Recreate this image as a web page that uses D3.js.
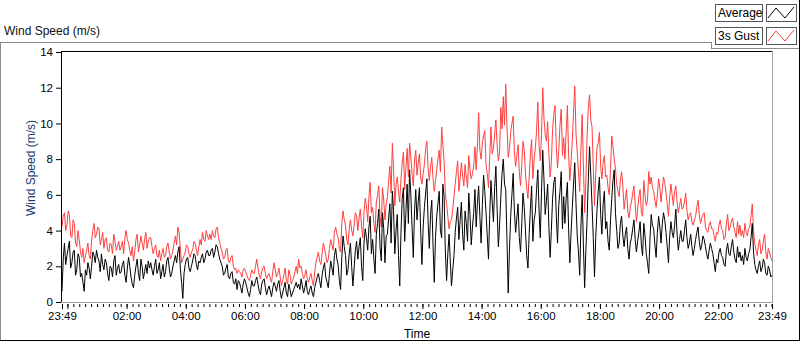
<!DOCTYPE html>
<html>
<head>
<meta charset="utf-8">
<script src="https://cdn.jsdelivr.net/npm/d3@7"></script>
<style>
  body { margin: 0; background: #fff; }
  svg { display: block; font-family: "Liberation Sans", Arial, sans-serif; }
</style>
</head>
<body>
<script>
// series names for legend
var seriesNames = ["Average", "3s Gust"];

// y axis ticks
var yTicks = [0, 2, 4, 6, 8, 10, 12, 14];

// x axis labels (first and last are the record start/end)
var xTickLabels = ["23:49", "02:00", "04:00", "06:00", "08:00", "10:00", "12:00",
  "14:00", "16:00", "18:00", "20:00", "22:00", "23:49"];

// 2.5 minute samples starting 23:49, one row per hour
var averageSpeed = [
  0.6,2.4, 3.3,2.1, 2.6,3.0, 3.4,1.9, 2.2,2.8, 2.9,1.5, 1.8,2.7, 2.5,1.4, 1.6,1.1, 0.6,1.8, 1.5,2.2, 1.9,1.3,
  2.0,2.8, 2.6,2.2, 2.9,2.5, 2.3,1.7, 2.7,2.1, 1.8,2.4, 2.2,1.6, 1.2,2.0, 1.9,1.4, 2.3,2.6, 1.5,1.9, 2.1,1.6,
  1.7,2.1, 2.3,1.5, 1.1,1.9, 2.5,2.0, 1.4,1.0, 0.8,1.5, 2.0,2.4, 1.6,1.2, 2.4,2.0, 1.3,1.7, 2.1,1.6, 2.3,1.9,
  2.2,1.8, 1.5,2.0, 2.4,1.6, 1.8,2.2, 1.3,1.7, 2.1,1.4, 1.7,2.3, 2.5,1.9, 1.4,1.6, 2.0,2.3, 2.6,2.2, 2.8,3.1,
  1.9,1.1, 0.2,1.6, 2.1,2.4, 2.5,1.9, 1.7,2.0, 2.3,2.7, 2.6,2.1, 1.8,2.3, 2.2,2.5, 2.7,2.2, 2.4,2.8, 2.9,2.6,
  2.6,2.9, 3.0,2.5, 2.8,3.2, 3.1,2.7, 2.4,2.2, 2.0,1.5, 1.6,1.9, 2.1,1.4, 1.3,1.6, 1.7,1.1, 1.0,1.3, 0.7,1.2,
  1.1,0.8, 0.5,1.0, 1.3,1.1, 0.8,0.5, 0.3,0.7, 1.2,0.9, 0.9,1.2, 1.4,1.0, 0.6,0.4, 1.0,1.2, 1.3,0.8, 0.4,0.7,
  0.9,0.6, 0.3,0.8, 1.1,0.9, 0.6,1.0, 1.2,0.6, 0.2,0.5, 0.8,1.1, 0.5,0.3, 1.0,0.7, 0.3,0.5, 0.7,0.9, 1.1,0.8,
  1.0,0.7, 1.3,0.9, 0.5,0.8, 1.2,0.6, 0.4,0.7, 0.9,0.5, 0.3,0.8, 1.1,1.4, 1.6,1.2, 0.8,1.5, 1.9,2.2, 1.4,1.1,
  0.8,1.6, 2.3,1.9, 1.5,2.6, 3.0,2.4, 2.1,1.2, 0.7,2.5, 3.7,3.1, 2.6,1.5, 1.8,2.7, 3.3,2.0, 0.9,1.9, 2.9,3.4,
  2.4,3.1, 3.6,2.0, 1.2,3.3, 4.1,3.6, 2.9,4.2, 4.8,2.7, 3.5,2.4, 1.6,3.8, 4.4,5.2, 3.1,2.3, 5.0,4.1, 2.2,3.7,
  3.8,4.7, 5.5,3.3, 6.2,5.1, 2.7,4.0, 4.9,2.6, 0.9,3.9, 5.8,6.4, 3.4,5.0, 6.6,4.4, 7.4,6.0, 4.2,2.5, 5.1,6.3,
  4.6,5.6, 6.4,3.9, 2.1,4.2, 5.3,6.1, 6.9,4.5, 3.0,4.9, 5.7,3.2, 1.1,3.6, 4.8,5.5, 6.2,4.0, 3.6,6.6, 5.9,2.8,
  1.2,2.7, 3.8,2.3, 0.9,1.8, 2.6,3.9, 4.7,5.3, 3.5,4.6, 5.6,3.8, 2.9,5.1, 4.4,3.4, 6.1,4.9, 3.2,4.2, 5.0,6.3,
  4.2,5.5, 6.5,4.8, 3.3,5.4, 7.1,6.2, 5.0,3.7, 2.4,4.9, 6.8,5.6, 4.5,6.4, 7.6,5.2, 3.1,4.3, 5.9,7.2, 8.0,6.6,
  6.3,3.5, 0.5,2.9, 4.8,6.0, 7.2,5.1, 3.9,4.7, 5.5,3.6, 2.8,4.4, 6.1,5.3, 4.0,2.6, 1.9,3.8, 5.2,6.5, 3.4,4.6,
  5.0,6.3, 7.4,5.2, 3.6,6.1, 8.5,6.9, 4.9,5.7, 6.6,4.2, 2.5,4.0, 5.8,6.7, 7.0,4.8, 3.3,5.4, 6.2,7.3, 4.1,5.9,
  4.4,5.8, 6.7,4.1, 2.2,3.9, 5.3,6.6, 7.8,5.5, 3.7,2.8, 1.5,4.3, 6.0,3.2, 0.8,2.9, 4.6,6.9, 8.7,7.1, 5.4,3.6,
  1.4,3.6, 5.1,6.2, 7.0,4.9, 3.8,5.5, 6.2,4.1, 4.5,3.4, 2.9,4.6, 5.8,6.8, 7.4,5.0, 4.0,3.0, 3.3,4.4, 4.8,3.7,
  3.1,3.8, 4.2,3.0, 2.4,3.3, 3.6,4.1, 4.6,3.5, 2.8,3.4, 3.9,4.5, 3.2,2.6, 4.4,3.7, 2.7,2.2, 1.6,3.5, 4.9,4.3,
  4.1,3.2, 2.5,3.9, 4.8,4.2, 3.3,4.4, 5.0,4.6, 3.9,3.1, 2.2,3.7, 4.5,3.9, 3.6,4.3, 5.2,3.8, 2.9,3.5, 4.0,3.4,
  3.4,4.0, 4.6,3.6, 3.0,3.3, 3.8,3.1, 2.6,3.0, 3.5,3.9, 4.2,3.4, 2.9,3.2, 3.7,3.5, 3.1,2.7, 2.4,2.9, 3.3,3.0,
  2.7,2.2, 1.7,2.4, 2.2,2.8, 3.0,2.6, 2.5,2.1, 2.0,2.9, 3.3,2.7, 2.6,3.1, 3.5,2.8, 2.4,2.2, 3.1,2.5, 2.8,2.3,
  2.6,2.1, 3.0,2.5, 2.3,2.7, 2.9,3.6, 4.4,2.8, 2.1,1.8, 1.6,2.0, 2.3,1.7, 1.9,2.4, 2.2,1.6, 1.5,2.0, 1.8,1.4,
  1.5
];

var gustSpeed = [
  4.2,4.8, 5.0,4.0, 4.3,5.1, 4.9,3.7, 3.6,4.6, 4.4,3.3, 3.1,4.0, 3.5,2.8, 2.5,3.0, 2.2,2.6, 2.9,3.3, 2.6,2.4,
  3.4,4.0, 4.4,3.6, 3.8,4.2, 4.1,3.2, 3.5,3.9, 3.0,3.5, 3.6,2.9, 2.8,3.3, 3.2,2.7, 3.8,3.4, 2.9,3.1, 3.4,2.9,
  3.1,3.4, 2.7,3.6, 4.0,3.5, 3.3,2.9, 2.6,3.1, 2.3,2.8, 3.5,3.8, 2.8,3.2, 3.7,3.3, 2.9,3.5, 3.9,3.0, 3.4,3.6,
  3.6,3.1, 2.7,3.0, 3.2,2.6, 2.5,2.9, 2.3,2.7, 3.0,2.5, 2.6,3.1, 3.3,2.8, 2.4,2.6, 2.9,3.3, 3.7,3.2, 4.2,3.9,
  3.0,2.2, 2.4,2.6, 2.8,3.2, 3.1,2.7, 2.5,2.8, 2.9,3.4, 3.3,2.9, 2.6,3.1, 3.5,3.2, 3.9,3.5, 3.4,4.0, 3.7,3.5,
  3.8,3.5, 4.0,3.7, 3.6,4.1, 4.2,3.6, 3.3,3.0, 2.8,2.4, 2.5,2.9, 3.0,2.3, 2.2,2.5, 2.6,2.0, 1.8,1.9, 1.6,1.8,
  1.7,1.6, 1.4,1.8, 1.9,1.7, 1.5,1.3, 1.2,1.5, 1.8,1.6, 1.6,2.0, 2.4,1.9, 1.5,1.3, 1.7,1.9, 2.0,1.6, 1.3,1.5,
  1.6,1.3, 1.1,1.7, 2.2,1.8, 1.4,1.6, 1.9,1.4, 0.9,1.2, 1.5,1.9, 1.2,1.0, 1.8,1.5, 1.0,1.2, 1.4,1.7, 2.0,1.6,
  2.4,1.9, 2.0,1.6, 1.3,1.5, 1.8,1.3, 1.1,1.4, 1.6,1.2, 0.9,1.7, 2.2,2.5, 2.8,2.3, 2.1,2.7, 3.3,3.0, 2.6,2.2,
  2.4,3.0, 3.5,3.2, 2.9,3.9, 4.2,3.8, 3.6,3.0, 2.8,4.4, 5.1,4.6, 4.3,3.5, 3.2,4.1, 4.6,4.0, 3.7,4.3, 5.0,4.8,
  4.0,4.7, 5.2,4.3, 3.6,5.0, 5.8,5.4, 4.5,5.9, 6.7,5.0, 5.3,4.4, 3.9,5.6, 6.0,6.5, 4.8,4.2, 6.4,5.7, 4.6,5.5,
  5.9,6.8, 7.6,6.1, 8.9,7.4, 5.4,6.6, 7.0,6.2, 5.6,6.9, 7.8,8.4, 6.3,7.5, 8.6,7.0, 8.9,8.1, 7.2,6.5, 7.9,8.5,
  7.1,7.8, 8.3,7.0, 6.6,7.2, 7.7,8.6, 9.0,7.5, 6.8,7.6, 8.1,6.9, 6.2,6.8, 7.4,8.0, 8.5,7.3, 9.8,8.8, 7.9,6.0,
  5.5,4.8, 4.1,4.5, 4.6,5.2, 5.9,6.6, 7.3,7.9, 6.2,6.9, 7.8,7.1, 6.5,7.7, 7.0,6.4, 8.2,7.4, 6.9,7.2, 7.6,8.7,
  7.4,8.7, 10.6,8.5, 8.0,8.9, 9.3,9.6, 7.7,7.2, 6.4,8.1, 9.8,8.3, 8.6,9.4, 10.2,8.8, 7.9,8.4, 10.9,9.7, 11.5,9.9,
  12.2,9.8, 8.1,8.6, 9.5,10.0, 10.4,8.4, 7.6,8.2, 8.8,7.3, 6.5,7.7, 9.0,8.5, 7.2,6.4, 5.8,7.0, 8.3,9.1, 6.9,8.0,
  8.6,9.6, 11.2,8.8, 7.9,9.3, 12.0,10.3, 9.4,9.0, 10.1,8.3, 7.0,7.8, 9.7,10.5, 11.0,8.7, 7.5,8.5, 9.9,10.8, 8.2,9.2,
  8.0,9.5, 11.0,8.2, 6.8,7.9, 9.1,10.6, 12.1,9.4, 8.4,7.3, 6.2,8.6, 10.5,7.7, 5.0,6.8, 9.3,10.9, 11.6,10.2, 9.8,7.6,
  5.4,7.2, 8.6,8.9, 9.5,7.6, 6.9,7.8, 8.2,7.0, 7.1,6.4, 6.0,7.4, 9.3,8.7, 8.0,7.5, 6.6,6.2, 5.9,6.8, 7.3,6.5,
  5.2,5.8, 6.3,5.1, 4.7,5.3, 5.6,6.1, 6.5,5.5, 4.5,5.2, 5.9,6.3, 5.0,4.8, 6.8,6.0, 5.4,5.7, 7.3,6.6, 7.0,6.4,
  6.2,5.7, 5.3,6.0, 6.9,6.4, 5.6,6.3, 7.0,6.7, 6.1,5.5, 4.8,5.9, 6.6,6.0, 5.4,6.2, 6.5,5.6, 5.0,5.4, 5.8,5.2,
  5.3,5.6, 6.1,5.1, 4.6,4.9, 5.0,4.5, 4.3,4.6, 4.8,5.3, 5.7,4.9, 4.4,4.7, 4.9,5.0, 4.2,4.0, 3.9,4.3, 4.5,4.1,
  4.1,3.7, 3.4,3.9, 3.8,4.3, 4.6,4.1, 4.0,3.5, 3.6,4.4, 4.9,4.0, 4.2,4.5, 4.7,4.2, 3.9,3.6, 4.5,3.8, 4.3,3.7,
  4.0,3.6, 4.4,3.9, 3.7,4.1, 4.2,4.8, 5.5,4.0, 3.3,2.9, 2.6,3.2, 3.5,2.7, 2.9,3.4, 3.8,2.8, 2.4,3.0, 2.8,2.5,
  2.3
];

// Define SVG area dimensions
var svgWidth = 800;
var svgHeight = 342;

// plot area (inner chart) position
var plot = { left: 62, top: 52, right: 772, bottom: 302 };

var startTime = new Date(2020, 0, 1, 23, 49);
var endTime = new Date(startTime.getTime() + 24 * 3600 * 1000);
var stepMs = 2.5 * 60 * 1000;

var svg = d3.select("body")
  .append("svg")
  .attr("width", svgWidth)
  .attr("height", svgHeight);

// scales
var xScale = d3.scaleTime()
  .domain([startTime, endTime])
  .range([plot.left, plot.right]);

var yScale = d3.scaleLinear()
  .domain([0, 14])
  .range([plot.bottom, plot.top]);

// outer frame (gray top/left, dark bottom/right)
var frame = svg.append("g").attr("fill", "none").attr("shape-rendering", "crispEdges");
frame.append("path")
  .attr("d", "M0.5,341 L0.5,42.5 L711.5,42.5 L711.5,48.5 L800,48.5")
  .attr("stroke", "#8c8c8c");
frame.append("path")
  .attr("d", "M0,340.5 L799.5,340.5 L799.5,0")
  .attr("stroke", "#000");

// chart title
svg.append("text")
  .attr("x", 4)
  .attr("y", 35)
  .attr("font-size", "12px")
  .attr("fill", "#111")
  .text("Wind Speed (m/s)");

// legend
var legend = svg.append("g");
seriesNames.forEach(function (name, i) {
  var y0 = 4 + i * 23;
  legend.append("rect")
    .attr("x", 715.5).attr("y", y0 + 0.5)
    .attr("width", 47).attr("height", 17)
    .attr("fill", "#fff").attr("stroke", "#555");
  legend.append("text")
    .attr("x", 718).attr("y", y0 + 13)
    .attr("font-size", "12px")
    .attr("fill", "#000")
    .text(name);
  legend.append("rect")
    .attr("x", 766.5).attr("y", y0 + 0.5)
    .attr("width", 30).attr("height", 17)
    .attr("fill", "#fff").attr("stroke", "#555");
  legend.append("path")
    .attr("d", "M768," + (y0 + 14) + " L776," + (y0 + 4) + " L785," + (y0 + 14) + " L794," + (y0 + 3))
    .attr("fill", "none")
    .attr("stroke", i === 0 ? "#000" : "#ff4040")
    .attr("stroke-width", 1);
});

// clip lines to plot area
svg.append("clipPath").attr("id", "plotClip")
  .append("rect")
  .attr("x", plot.left).attr("y", plot.top)
  .attr("width", plot.right - plot.left).attr("height", plot.bottom - plot.top);

var line = d3.line()
  .x(function (d, i) { return xScale(new Date(startTime.getTime() + i * stepMs)); })
  .y(function (d) { return yScale(d); });

var lines = svg.append("g").attr("clip-path", "url(#plotClip)");
lines.append("path")
  .datum(gustSpeed)
  .attr("d", line)
  .attr("fill", "none")
  .attr("stroke", "#ff4040")
  .attr("stroke-width", 1);
lines.append("path")
  .datum(averageSpeed)
  .attr("d", line)
  .attr("fill", "none")
  .attr("stroke", "#000")
  .attr("stroke-width", 1);

// plot border: dark top/left, gray bottom/right
var border = svg.append("g").attr("fill", "none").attr("shape-rendering", "crispEdges");
border.append("path")
  .attr("d", "M" + (plot.left - 0.5) + "," + (plot.bottom + 1) + " L" + (plot.left - 0.5) + "," + (plot.top - 0.5) + " L" + (plot.right + 1) + "," + (plot.top - 0.5))
  .attr("stroke", "#000");
border.append("path")
  .attr("d", "M" + (plot.left - 1) + "," + (plot.bottom + 0.5) + " L" + (plot.right + 0.5) + "," + (plot.bottom + 0.5) + " L" + (plot.right + 0.5) + "," + (plot.top - 1))
  .attr("stroke", "#a0a0a0");

// y axis
var leftAxis = d3.axisLeft(yScale)
  .tickValues(yTicks)
  .tickSize(5)
  .tickPadding(3)
  .tickFormat(d3.format("d"));

var yAxisGroup = svg.append("g")
  .attr("transform", "translate(" + (plot.left - 1) + ",0)")
  .call(leftAxis);
yAxisGroup.select(".domain").remove();
yAxisGroup.selectAll("text").attr("font-size", "11.5px").attr("fill", "#000").attr("font-family", null);

// x axis: minor ticks every 12 minutes from 00:00, major every 2 hours
var firstMidnight = new Date(2020, 0, 2, 0, 0);
var minorTicks = d3.timeMinute.every(12).range(firstMidnight, endTime)
  .filter(function (d) { return d.getMinutes() % 12 === 0; });
minorTicks.unshift(startTime);
minorTicks.push(endTime);
var majorTicks = [startTime].concat(d3.timeHour.every(2).range(firstMidnight, endTime)).concat([endTime]);

var minorAxis = d3.axisBottom(xScale)
  .tickValues(minorTicks)
  .tickSize(3)
  .tickFormat("");
var majorAxis = d3.axisBottom(xScale)
  .tickValues(majorTicks)
  .tickSize(5)
  .tickPadding(3)
  .tickFormat(function (d, i) {
    if (i === 0) return xTickLabels[0];
    if (i === majorTicks.length - 1) return xTickLabels[xTickLabels.length - 1];
    var label = d3.timeFormat("%H:%M")(d);
    return xTickLabels.indexOf(label) > 0 ? label : "";
  });

var xAxisY = plot.bottom + 2;
var minorGroup = svg.append("g")
  .attr("transform", "translate(0," + xAxisY + ")")
  .call(minorAxis);
minorGroup.select(".domain").remove();

var majorGroup = svg.append("g")
  .attr("transform", "translate(0," + xAxisY + ")")
  .call(majorAxis);
majorGroup.select(".domain").remove();
majorGroup.selectAll("text").attr("font-size", "11.5px").attr("fill", "#000").attr("font-family", null);

// axis titles
svg.append("text")
  .attr("transform", "translate(35,168) rotate(-90)")
  .attr("text-anchor", "middle")
  .attr("font-size", "12px")
  .attr("fill", "#203a70")
  .text("Wind Speed (m/s)");

svg.append("text")
  .attr("x", 417)
  .attr("y", 338)
  .attr("text-anchor", "middle")
  .attr("font-size", "12px")
  .attr("fill", "#000")
  .text("Time");
</script>
</body>
</html>
